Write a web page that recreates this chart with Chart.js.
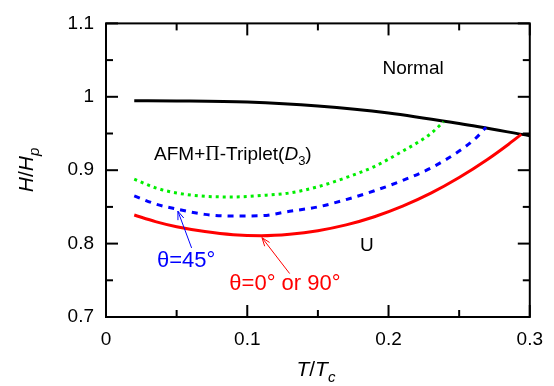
<!DOCTYPE html>
<html><head><meta charset="utf-8">
<script src="https://cdn.jsdelivr.net/npm/chart.js@4/dist/chart.umd.min.js"></script>
<style>html,body{margin:0;padding:0;background:#fff;}canvas{display:block;}</style>
</head><body>
<canvas id="c" width="554" height="386"></canvas>
<script>
// ---- tick definitions ----
const xMajorTicks = [0, 0.1, 0.2, 0.3];
const xTickLabels = ['0', '0.1', '0.2', '0.3'];
const xMinorTicks = [0.05, 0.15, 0.25];
const yMajorTicks = [0.7, 0.8, 0.9, 1.0, 1.1];
const yTickLabels = ['0.7', '0.8', '0.9', '1', '1.1'];
const yMinorTicks = [0.75, 0.85, 0.95, 1.05];

// ---- series (T/Tc, H/Hp) ----
const tNormal = [0.02, 0.05, 0.10, 0.15, 0.20, 0.25, 0.30];
const hNormal = [0.9945, 0.9943, 0.9928, 0.9875, 0.978, 0.9635, 0.947];

const tTheta45 = [0.02, 0.035, 0.05, 0.07, 0.09, 0.11, 0.13, 0.15, 0.17, 0.19, 0.21, 0.23, 0.25, 0.262, 0.269];
const hTheta45 = [0.8651, 0.854, 0.847, 0.8398, 0.8375, 0.838, 0.844, 0.850, 0.860, 0.872, 0.886, 0.903, 0.926, 0.944, 0.9584];

const tGreen = [0.02, 0.035, 0.05, 0.07, 0.09, 0.11, 0.13, 0.15, 0.17, 0.19, 0.21, 0.22, 0.23, 0.239];
const hGreen = [0.8878, 0.876, 0.869, 0.8645, 0.8635, 0.8655, 0.869, 0.8775, 0.890, 0.905, 0.926, 0.937, 0.950, 0.966];

const tTheta0 = [0.02, 0.035, 0.05, 0.07, 0.09, 0.11, 0.13, 0.15, 0.17, 0.19, 0.21, 0.23, 0.25, 0.27, 0.285, 0.294];
const hTheta0 = [0.839, 0.830, 0.823, 0.8165, 0.8122, 0.8108, 0.8128, 0.8176, 0.8255, 0.8366, 0.851, 0.8687, 0.890, 0.9146, 0.9354, 0.9488];

const pts = (xs, ys) => xs.map((v, i) => ({x: v, y: ys[i]}));
const isIn = (arr, v) => arr.findIndex(m => Math.abs(m - v) < 1e-9);

const SANS = '"Liberation Sans", Arial, sans-serif';

function drawParts(ctx, parts, x, y) {
  let cx = x;
  parts.forEach(p => {
    ctx.font = p.font;
    ctx.fillText(p.text, cx, y + (p.dy || 0));
    cx += ctx.measureText(p.text).width;
  });
  return cx - x;
}
function partsWidth(ctx, parts) {
  let w = 0;
  parts.forEach(p => { ctx.font = p.font; w += ctx.measureText(p.text).width; });
  return w;
}
function arrow(ctx, x1, y1, x2, y2, color) {
  ctx.strokeStyle = color; ctx.lineWidth = 1;
  ctx.beginPath(); ctx.moveTo(x1, y1); ctx.lineTo(x2, y2); ctx.stroke();
  const ang = Math.atan2(y2 - y1, x2 - x1), L = 9, s = 0.35;
  ctx.beginPath();
  ctx.moveTo(x2 - L * Math.cos(ang - s), y2 - L * Math.sin(ang - s));
  ctx.lineTo(x2, y2);
  ctx.lineTo(x2 - L * Math.cos(ang + s), y2 - L * Math.sin(ang + s));
  ctx.stroke();
}

const overlay = {
  id: 'overlay',
  afterDraw(chart) {
    const {ctx, chartArea: a, scales: {x, y}} = chart;
    ctx.save();
    ctx.strokeStyle = '#000'; ctx.lineWidth = 2; ctx.lineCap = 'butt';
    ctx.strokeRect(a.left, a.top, a.right - a.left, a.bottom - a.top);
    const tk = (px, py, dx, dy) => { ctx.beginPath(); ctx.moveTo(px, py); ctx.lineTo(px + dx, py + dy); ctx.stroke(); };
    yMajorTicks.forEach(v => { const p = y.getPixelForValue(v); tk(a.left, p, 12, 0); tk(a.right, p, -12, 0); });
    yMinorTicks.forEach(v => { const p = y.getPixelForValue(v); tk(a.left, p, 7, 0); tk(a.right, p, -7, 0); });
    xMajorTicks.forEach(v => { const p = x.getPixelForValue(v); tk(p, a.bottom, 0, -12); tk(p, a.top, 0, 12); });
    xMinorTicks.forEach(v => { const p = x.getPixelForValue(v); tk(p, a.bottom, 0, -7); tk(p, a.top, 0, 7); });

    ctx.textBaseline = 'alphabetic';
    ctx.fillStyle = '#000';
    ctx.font = '19px ' + SANS; ctx.textAlign = 'center';
    ctx.fillText('Normal', x.getPixelForValue(0.2174), y.getPixelForValue(1.0307));
    ctx.fillText('U', x.getPixelForValue(0.1847), y.getPixelForValue(0.790));
    ctx.textAlign = 'left';
    drawParts(ctx, [
      {text: 'AFM+', font: '19px ' + SANS},
      {text: 'Π', font: '20px "Liberation Serif", serif'},
      {text: '-Triplet(', font: '19px ' + SANS},
      {text: 'D', font: 'italic 19px ' + SANS},
      {text: '3', font: '13px ' + SANS, dy: 5},
      {text: ')', font: '19px ' + SANS}
    ], x.getPixelForValue(0.034), y.getPixelForValue(0.9144));
    ctx.fillStyle = '#0000ff';
    ctx.font = '22px ' + SANS;
    ctx.fillText('θ=45°', x.getPixelForValue(0.0361), y.getPixelForValue(0.768));
    ctx.fillStyle = '#ff0000';
    ctx.fillText('θ=0° or 90°', x.getPixelForValue(0.0873), y.getPixelForValue(0.7366));
    arrow(ctx, x.getPixelForValue(0.0606), y.getPixelForValue(0.7941), x.getPixelForValue(0.0509), y.getPixelForValue(0.8442), '#0000ff');
    arrow(ctx, x.getPixelForValue(0.130), y.getPixelForValue(0.7592), x.getPixelForValue(0.1104), y.getPixelForValue(0.8081), '#ff0000');

    ctx.fillStyle = '#000';
    const xt = [
      {text: 'T', font: 'italic 21px ' + SANS},
      {text: '/', font: '21px ' + SANS},
      {text: 'T', font: 'italic 21px ' + SANS},
      {text: 'c', font: 'italic 15px ' + SANS, dy: 6}
    ];
    const xw = partsWidth(ctx, xt);
    drawParts(ctx, xt, (a.left + a.right) / 2 - xw / 2 - 2, 376);
    const yt = [
      {text: 'H', font: 'italic 21px ' + SANS},
      {text: '/', font: '21px ' + SANS},
      {text: 'H', font: 'italic 21px ' + SANS},
      {text: 'p', font: 'italic 15px ' + SANS, dy: 6}
    ];
    const yw = partsWidth(ctx, yt);
    ctx.translate(33, 170);
    ctx.rotate(-Math.PI / 2);
    drawParts(ctx, yt, -yw / 2, 0);
    ctx.restore();
  }
};

new Chart(document.getElementById('c'), {
  type: 'line',
  data: {
    datasets: [
      {label: 'theta0', data: pts(tTheta0, hTheta0), borderColor: '#ff0000', borderWidth: 3, pointRadius: 0, cubicInterpolationMode: 'monotone'},
      {label: 'theta45', data: pts(tTheta45, hTheta45), borderColor: '#0000ff', borderWidth: 3, borderDash: [6, 6], pointRadius: 0, cubicInterpolationMode: 'monotone'},
      {label: 'green', data: pts(tGreen, hGreen), borderColor: '#00ee00', borderWidth: 3, borderDash: [3, 4], pointRadius: 0, cubicInterpolationMode: 'monotone'},
      {label: 'normal', data: pts(tNormal, hNormal), borderColor: '#000000', borderWidth: 3, pointRadius: 0, cubicInterpolationMode: 'monotone'}
    ]
  },
  options: {
    responsive: false,
    animation: false,
    devicePixelRatio: 1,
    layout: {padding: {top: 11, right: 16, left: 0, bottom: 0}},
    plugins: {legend: {display: false}, tooltip: {enabled: false}},
    scales: {
      x: {
        type: 'linear', min: 0, max: 0.3,
        afterBuildTicks: s => { s.ticks = [...xMajorTicks, ...xMinorTicks].sort((p, q) => p - q).map(v => ({value: v})); },
        afterFit: s => { s.height = 69; },
        ticks: {
          autoSkip: false, maxRotation: 0, color: '#000', padding: 11,
          font: {family: 'Liberation Sans', size: 19},
          callback: v => { const i = isIn(xMajorTicks, v); return i >= 0 ? xTickLabels[i] : ''; }
        },
        grid: {display: false, drawTicks: false},
        border: {display: false}
      },
      y: {
        type: 'linear', min: 0.7, max: 1.1,
        afterBuildTicks: s => { s.ticks = [...yMajorTicks, ...yMinorTicks].sort((p, q) => p - q).map(v => ({value: v})); },
        afterFit: s => { s.width = 106; },
        ticks: {
          autoSkip: false, color: '#000', padding: 12,
          font: {family: 'Liberation Sans', size: 19},
          callback: v => { const i = isIn(yMajorTicks, v); return i >= 0 ? yTickLabels[i] : ''; }
        },
        grid: {display: false, drawTicks: false},
        border: {display: false}
      }
    }
  },
  plugins: [overlay]
});
</script>
</body></html>
